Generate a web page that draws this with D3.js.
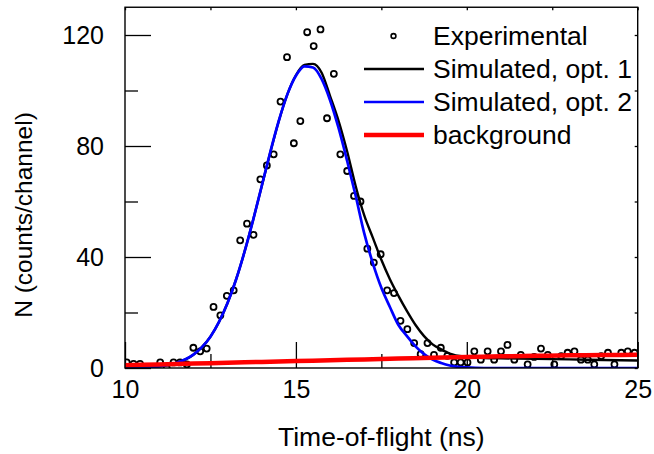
<!DOCTYPE html>
<html>
<head>
<meta charset="utf-8">
<script src="https://cdn.jsdelivr.net/npm/d3@7"></script>
<style>
  html, body { margin: 0; padding: 0; background: #fff; }
  svg text { font-family: "Liberation Sans", Arial, sans-serif; fill: #000; }
</style>
</head>
<body>
<svg id="chart" width="654" height="454"></svg>
<script>
// Measured time-of-flight spectrum (channel centres, ns) and counts
const expTime = [10.05, 10.25, 10.44, 10.64, 10.83, 11.03, 11.22, 11.42, 11.61, 11.81,
  12.00, 12.20, 12.39, 12.59, 12.79, 12.98, 13.18, 13.37, 13.57, 13.76,
  13.96, 14.15, 14.35, 14.55, 14.74, 14.94, 15.13, 15.33, 15.52, 15.72,
  15.91, 16.11, 16.30, 16.50, 16.70, 16.89, 17.09, 17.28, 17.48, 17.67,
  17.87, 18.06, 18.26, 18.46, 18.65, 18.85, 19.04, 19.24, 19.43, 19.63,
  19.82, 20.02, 20.22, 20.41, 20.61, 20.80, 21.00, 21.19, 21.39, 21.58,
  21.78, 21.97, 22.17, 22.37, 22.56, 22.76, 22.95, 23.15, 23.34, 23.54,
  23.73, 23.93, 24.13, 24.32, 24.52, 24.71, 24.91];
const expCounts = [2, 1.5, 1.5, 0, 0, 2, 0, 2, 2, 1.3,
  7.3, 6, 7, 22, 19, 26, 28, 46, 52, 48,
  68, 73, 77, 96, 112, 81, 89, 121, 116, 122,
  90, 106, 77, 71, 62, 60, 43, 38, 41, 28,
  27, 17, 14, 9, 5, 9, 4.7, 7.3, 4.4, 2,
  2, 2, 6, 3, 6, 3, 6, 8.3, 3, 4.7,
  1.3, 4, 7, 4.7, 1.3, 4.3, 5.5, 6, 3, 3,
  1.3, 4.3, 5.5, 1.3, 5.5, 6, 5.5];

// Simulated curves, sampled on a common time grid (ns)
const simTime = [10, 10.5, 11, 11.5, 12, 12.25, 12.5, 12.75, 13, 13.25, 13.5, 13.75,
  14, 14.25, 14.5, 14.75, 15, 15.25, 15.5, 15.75, 16, 16.25, 16.5, 16.75,
  17, 17.25, 17.5, 17.75, 18, 18.25, 18.5, 18.75, 19, 19.25, 19.5, 20,
  20.5, 21, 22, 23, 24, 25];
const simOpt1 = [0, 0.2, 0.6, 1.8, 4.8, 7.5, 11.3, 16.6, 23.4, 31.9, 42, 53.4,
  65.5, 77.6, 89, 98.6, 105.5, 109.2, 109.6, 106.5, 98, 89, 78, 65.5,
  55, 47, 39, 32, 26, 20.5, 15.5, 11.5, 8.5, 6.7, 5.2, 4,
  3.6, 3.5, 3.3, 3.1, 2.9, 2.7];
const simOpt2 = [0, 0.2, 0.6, 1.8, 4.8, 7.5, 11.3, 16.6, 23.4, 31.9, 42, 53.4,
  65.6, 77.8, 89.1, 98.6, 105.3, 108.7, 108.3, 104.2, 96.5, 86.4, 74.6, 62,
  48.5, 37.8, 28.9, 22, 15.5, 11.5, 7.8, 5, 3, 1.8, 0.9, 0.2,
  0, 0, 0, 0, 0, 0];

// Background estimate
const bgTime = [10, 11, 12, 13, 14, 15, 16, 17, 18, 19, 20, 21, 22, 23, 24, 25];
const bgCounts = [1.0, 1.3, 1.6, 1.9, 2.2, 2.5, 2.8, 3.1, 3.4, 3.7, 3.95, 4.2, 4.4, 4.55, 4.65, 4.75];

// Axis ticks and labels
const xMajorTicks = [10, 15, 20, 25];
const xMinorTicks = [12.5, 17.5, 22.5];
const yMajorTicks = [0, 40, 80, 120];
const yMinorTicks = [20, 60, 100];
const xTitle = "Time-of-flight (ns)";
const yTitle = "N (counts/channel)";
const legendLabels = ["Experimental", "Simulated, opt. 1", "Simulated, opt. 2", "background"];

const svg = d3.select("#chart");
const plot = { left: 125, right: 637.7, top: 7.25, bottom: 368 };

const x = d3.scaleLinear().domain([10, 25]).range([plot.left, plot.right]);
const y = d3.scaleLinear().domain([0, 130]).range([plot.bottom, plot.top]);

svg.append("defs").append("clipPath").attr("id", "plotClip")
  .append("rect")
  .attr("x", plot.left).attr("y", plot.top)
  .attr("width", plot.right - plot.left).attr("height", plot.bottom - plot.top);

const tickFont = 25;
const labelFont = 26.5;

// Axes with inward ticks
const styleAxis = g => {
  g.select(".domain").remove();
  g.selectAll(".tick line").attr("stroke", "#000").attr("stroke-width", 1.3);
  g.selectAll(".tick text").attr("font-size", tickFont).attr("fill", "#000");
};

svg.append("g").attr("transform", `translate(0,${plot.bottom})`)
  .call(d3.axisBottom(x).tickValues(xMajorTicks).tickSize(-26).tickPadding(12).tickFormat(d3.format("d")))
  .call(styleAxis);
svg.append("g").attr("transform", `translate(0,${plot.bottom})`)
  .call(d3.axisBottom(x).tickValues(xMinorTicks).tickSize(-14).tickFormat(""))
  .call(styleAxis);
svg.append("g").attr("transform", `translate(${plot.left},0)`)
  .call(d3.axisLeft(y).tickValues(yMajorTicks).tickSize(-26).tickPadding(21).tickFormat(d3.format("d")))
  .call(styleAxis);
svg.append("g").attr("transform", `translate(${plot.left},0)`)
  .call(d3.axisLeft(y).tickValues(yMinorTicks).tickSize(-13).tickFormat(""))
  .call(styleAxis);
svg.append("g").attr("transform", `translate(0,${plot.top})`)
  .call(d3.axisTop(x).tickValues(xMajorTicks.concat(xMinorTicks)).tickSize(-3).tickFormat(""))
  .call(styleAxis);
svg.append("g").attr("transform", `translate(${plot.right},0)`)
  .call(d3.axisRight(y).tickValues(yMajorTicks.concat(yMinorTicks)).tickSize(-3).tickFormat(""))
  .call(styleAxis);

const layer = svg.append("g").attr("clip-path", "url(#plotClip)");

// Experimental points
layer.append("g").selectAll("circle")
  .data(expTime.map((t, i) => [t, expCounts[i]]))
  .join("circle")
  .attr("cx", d => x(d[0]))
  .attr("cy", d => y(d[1]))
  .attr("r", 3)
  .attr("fill", "none")
  .attr("stroke", "#000")
  .attr("stroke-width", 1.8);

const line = d3.line().x(d => x(d[0])).y(d => y(d[1])).curve(d3.curveMonotoneX);

layer.append("path")
  .datum(simTime.map((t, i) => [t, simOpt1[i]]))
  .attr("d", line).attr("fill", "none").attr("stroke", "#000").attr("stroke-width", 2.4);
layer.append("path")
  .datum(simTime.map((t, i) => [t, simOpt2[i]]))
  .attr("d", line).attr("fill", "none").attr("stroke", "#0000ff").attr("stroke-width", 2.7);
layer.append("path")
  .datum(bgTime.map((t, i) => [t, bgCounts[i]]))
  .attr("d", line).attr("fill", "none").attr("stroke", "#ff0000").attr("stroke-width", 4.5);

// Frame
svg.append("rect")
  .attr("x", plot.left).attr("y", plot.top)
  .attr("width", plot.right - plot.left).attr("height", plot.bottom - plot.top)
  .attr("fill", "none").attr("stroke", "#000").attr("stroke-width", 1.4);

// Axis titles
svg.append("text")
  .attr("x", (plot.left + plot.right) / 2).attr("y", 446)
  .attr("text-anchor", "middle").attr("font-size", labelFont)
  .text(xTitle);
svg.append("text")
  .attr("transform", "translate(32,215) rotate(-90)")
  .attr("text-anchor", "middle").attr("font-size", 24.5)
  .text(yTitle);

// Legend
const legendRows = [36, 69, 102, 135];
const legend = svg.append("g");
legend.append("circle")
  .attr("cx", 393.5).attr("cy", legendRows[0]).attr("r", 2.4)
  .attr("fill", "none").attr("stroke", "#000").attr("stroke-width", 1.6);
const legendStrokes = [["#000", 2.4], ["#0000ff", 2.7], ["#ff0000", 4.5]];
legendStrokes.forEach(([c, w], i) => {
  legend.append("line")
    .attr("x1", 364).attr("x2", 424)
    .attr("y1", legendRows[i + 1]).attr("y2", legendRows[i + 1])
    .attr("stroke", c).attr("stroke-width", w);
});
legend.selectAll("text.lab")
  .data(legendLabels)
  .join("text")
  .attr("class", "lab")
  .attr("x", 433)
  .attr("y", (d, i) => legendRows[i])
  .attr("dy", "0.35em")
  .attr("font-size", labelFont)
  .text(d => d);
</script>
</body>
</html>
